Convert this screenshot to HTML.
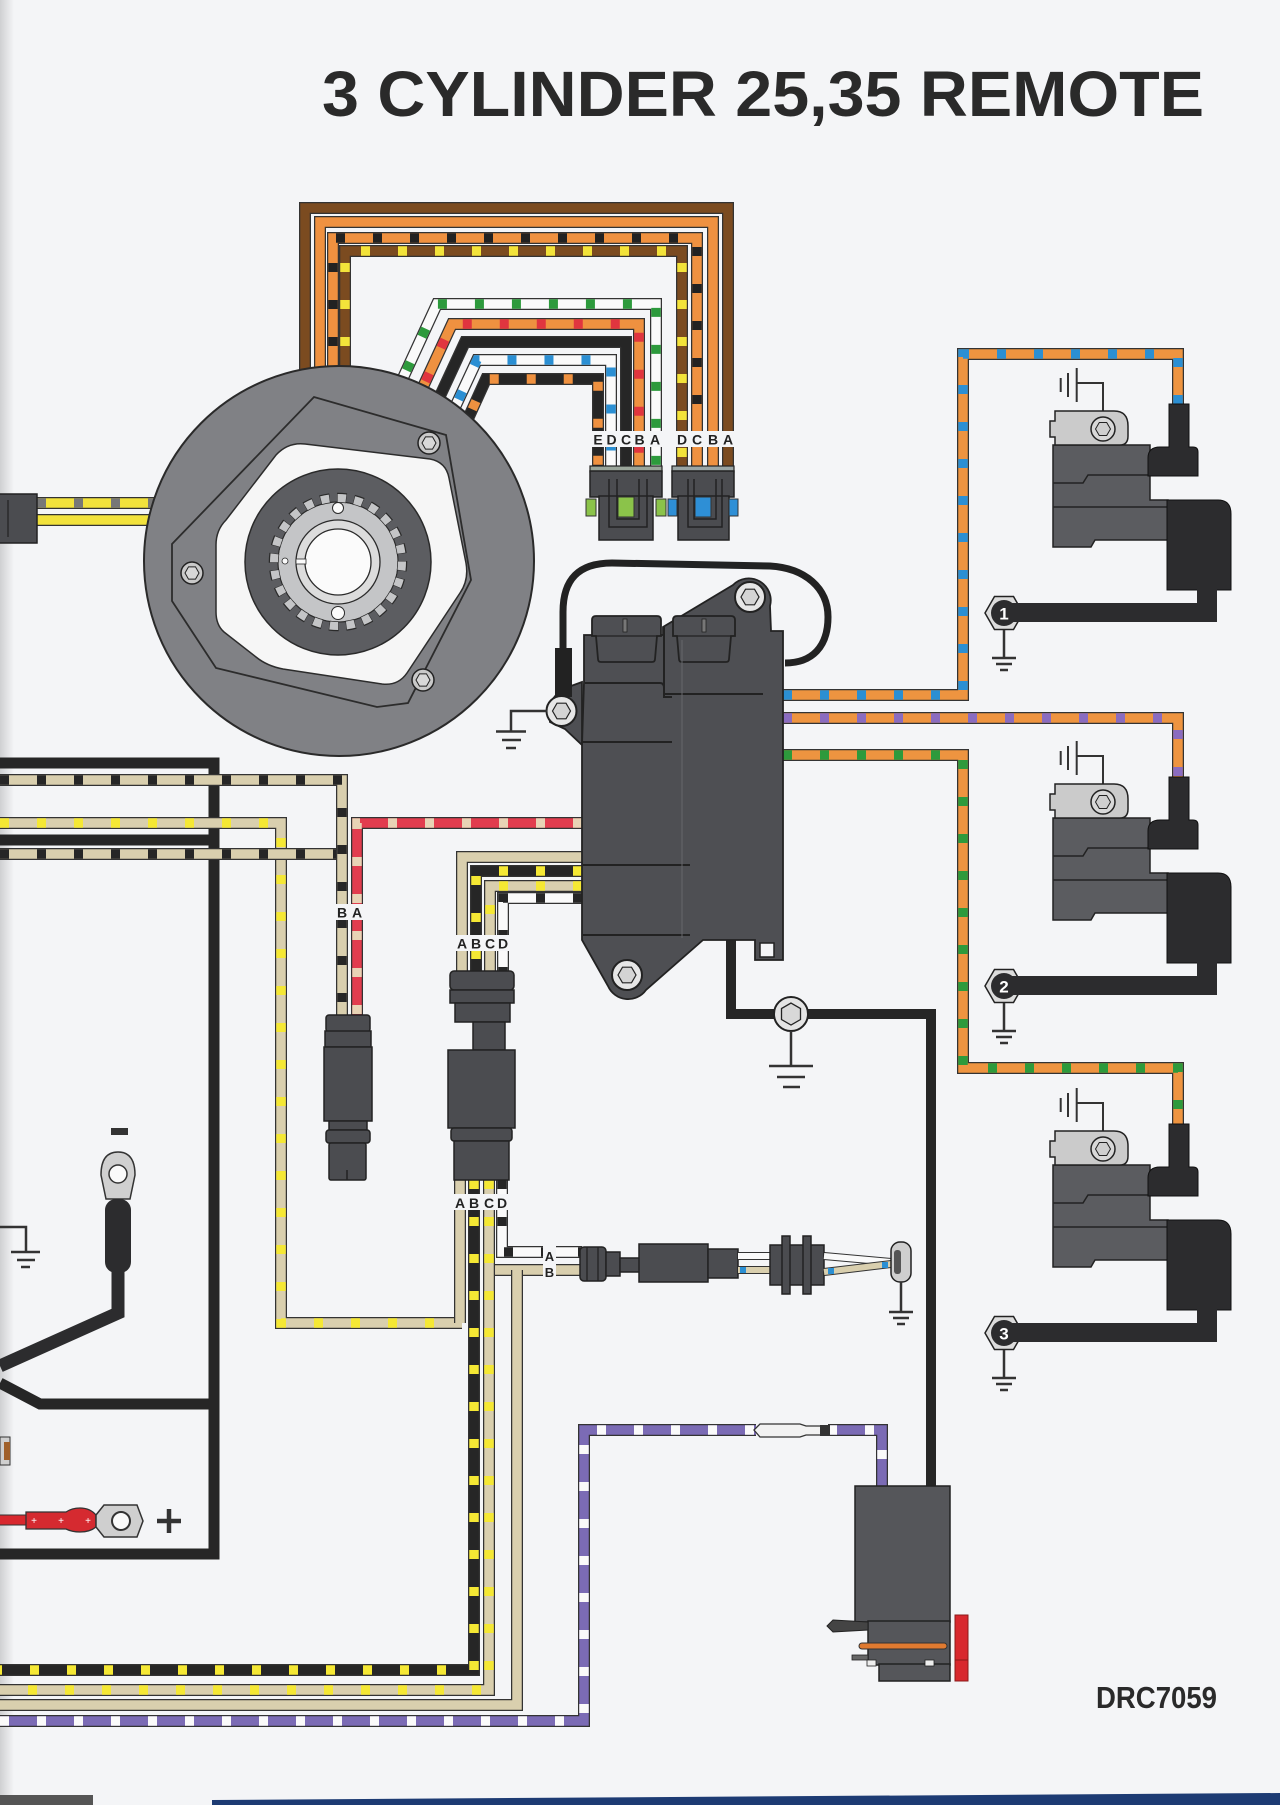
<!DOCTYPE html>
<html><head><meta charset="utf-8"><title>3 CYLINDER 25,35 REMOTE</title>
<style>
html,body{margin:0;padding:0;background:#f4f5f7;}
svg{display:block;}
.o{fill:none;stroke:#333;stroke-width:12;stroke-linejoin:miter;}
.w{fill:none;stroke-width:9.5;stroke-linejoin:miter;}
.d{stroke-dasharray:9 28;}
.k{fill:none;stroke:#262626;stroke-width:11;stroke-linejoin:miter;}
.g{fill:none;stroke:#333;stroke-width:2.5;}
.lb{font-family:"Liberation Sans",Arial,sans-serif;font-weight:bold;font-size:14px;fill:#222;text-anchor:middle;}
.pk{fill:#4e4f53;stroke:#222;stroke-width:1.8;}
.cn{fill:#4b4c50;stroke:#222;stroke-width:1.5;}
</style></head>
<body>
<svg width="1280" height="1805" viewBox="0 0 1280 1805" xmlns="http://www.w3.org/2000/svg">
<defs>
<linearGradient id="le" x1="0" x2="1" y1="0" y2="0"><stop offset="0" stop-color="#cfd0d2"/><stop offset="1" stop-color="#f4f5f7"/></linearGradient>
</defs>
<rect x="0" y="0" width="1280" height="1805" fill="#f4f5f7"/>
<rect x="0" y="0" width="14" height="1805" fill="url(#le)"/>

<!-- Title -->
<text x="322" y="116" font-family="Liberation Sans, Arial, sans-serif" font-weight="bold" font-size="64" fill="#2a2a2a" textLength="882" lengthAdjust="spacingAndGlyphs">3 CYLINDER 25,35 REMOTE</text>

<!-- ===== 4-wire stator harness ===== -->
<path class="o" d="M305,420 V208 H728 V468"/><path class="w" stroke="#7b4b20" d="M305,420 V208 H728 V468"/>
<path class="o" d="M320,420 V222 H713 V468"/><path class="w" stroke="#ef9140" d="M320,420 V222 H713 V468"/>
<path class="o" d="M333,420 V238 H697 V468"/><path class="w" stroke="#ef9140" d="M333,420 V238 H697 V468"/><path class="w d" stroke="#222" d="M333,420 V238 H697 V468"/>
<path class="o" d="M345,420 V251 H682 V468"/><path class="w" stroke="#7b4b20" d="M345,420 V251 H682 V468"/><path class="w d" stroke="#f3e33a" d="M345,420 V251 H682 V468"/>

<!-- ===== 5-wire harness ===== -->
<path class="o" d="M391,404 L437,304 H656 V468"/><path class="w" stroke="#fafafa" d="M391,404 L437,304 H656 V468"/><path class="w d" stroke="#2d9a3c" d="M391,404 L437,304 H656 V468"/>
<path class="o" d="M410,415 L452,324 H639 V468"/><path class="w" stroke="#ef9140" d="M410,415 L452,324 H639 V468"/><path class="w d" stroke="#e0353f" d="M410,415 L452,324 H639 V468"/>
<path class="o" d="M427,424 L465,342 H626 V468"/><path class="w" stroke="#262626" d="M427,424 L465,342 H626 V468"/>
<path class="o" d="M443,433 L477,360 H611 V468"/><path class="w" stroke="#fafafa" d="M443,433 L477,360 H611 V468"/><path class="w d" stroke="#2b8fd3" d="M443,433 L477,360 H611 V468"/>
<path class="o" d="M457,443 L486,379 H598 V468"/><path class="w" stroke="#262626" d="M457,443 L486,379 H598 V468"/><path class="w d" stroke="#ef9140" d="M457,443 L486,379 H598 V468"/>

<!-- labels on harness -->
<rect x="589" y="431" width="74" height="16" fill="#f4f5f7"/>
<text class="lb" x="598" y="444.5">E</text><text class="lb" x="611.5" y="444.5">D</text><text class="lb" x="626" y="444.5">C</text><text class="lb" x="639.5" y="444.5">B</text><text class="lb" x="655" y="444.5">A</text>
<rect x="671" y="431" width="66" height="16" fill="#f4f5f7"/>
<text class="lb" x="682" y="444.5">D</text><text class="lb" x="697" y="444.5">C</text><text class="lb" x="713" y="444.5">B</text><text class="lb" x="728" y="444.5">A</text>

<!-- connectors EDCBA / DCBA -->
<rect x="590" y="466" width="72" height="6" fill="#9aa59a" stroke="#222" stroke-width="1.2"/>
<rect x="590" y="471" width="72" height="26" class="cn"/>
<rect x="599" y="496" width="54" height="44" class="cn"/>
<rect x="586" y="499" width="10" height="17" fill="#8bc34a" stroke="#333"/>
<rect x="656" y="499" width="10" height="17" fill="#8bc34a" stroke="#333"/>
<rect x="618" y="497" width="16" height="20" fill="#8bc34a" stroke="#333"/>
<path d="M609,479 V527 H647 V479 M617,479 V519 H639 V479" fill="none" stroke="#222" stroke-width="1.5"/>
<rect x="672" y="466" width="62" height="6" fill="#9aa5a5" stroke="#222" stroke-width="1.2"/>
<rect x="672" y="471" width="62" height="26" class="cn"/>
<rect x="678" y="496" width="51" height="44" class="cn"/>
<rect x="668" y="499" width="9" height="17" fill="#2e8fd6" stroke="#333"/>
<rect x="729" y="499" width="9" height="17" fill="#2e8fd6" stroke="#333"/>
<rect x="695" y="497" width="16" height="20" fill="#2e8fd6" stroke="#333"/>
<path d="M688,479 V527 H722 V479 M694,479 V519 H716 V479" fill="none" stroke="#222" stroke-width="1.5"/>

<!-- stator left wires & connector -->
<path class="o" d="M37,503 H165"/><path class="w" stroke="#f2e23c" d="M37,503 H165"/><path class="w d" stroke="#777" d="M37,503 H165"/>
<path class="o" d="M37,520 H165"/><path class="w" stroke="#f2e23c" d="M37,520 H165"/>
<rect x="-2" y="494" width="39" height="49" class="cn"/>
<path d="M8,500 V537" stroke="#222" stroke-width="1.2"/>

<!-- ===== Stator ===== -->
<circle cx="339" cy="561" r="195" fill="#808185" stroke="#2a2a2a" stroke-width="2"/>
<polygon points="172,544 314,397 446,435 471,580 408,703 377,707 216,668 172,601" fill="none" stroke="#2c2c2c" stroke-width="1.8"/>
<path d="M216,612 L216,545 Q216,530 226,520 L276,455 Q288,442 305,444 L430,459 Q446,462 449,478 L466,563 Q469,580 460,593 L407,673 Q398,686 382,684 L283,669 Q267,666 256,657 L224,632 Q216,625 216,612 Z" fill="#f6f6f6" stroke="#2c2c2c" stroke-width="1.5"/>
<circle cx="338" cy="562" r="93" fill="#5c5d61" stroke="#2a2a2a" stroke-width="1.5"/>
<circle cx="338" cy="562" r="60" fill="#c4c5c7" stroke="#2a2a2a" stroke-width="1.2"/>
<circle cx="338" cy="562" r="64" fill="none" stroke="#2a2a2a" stroke-width="10.5" pathLength="240" stroke-dasharray="5.6 4.4" stroke-dashoffset="0.3"/>
<circle cx="338" cy="562" r="64" fill="none" stroke="#c4c5c7" stroke-width="8" pathLength="240" stroke-dasharray="5 5"/>
<circle cx="338" cy="562" r="59.3" fill="#c4c5c7"/>
<circle cx="338" cy="562" r="42" fill="#dcdcdc" stroke="#2a2a2a" stroke-width="1.3"/>
<circle cx="338" cy="562" r="33" fill="#fbfbfb" stroke="#2a2a2a" stroke-width="1.3"/>
<rect x="296" y="559" width="10" height="5" fill="#fbfbfb" stroke="#2a2a2a" stroke-width="0.8"/>
<circle cx="338" cy="508" r="5.5" fill="#fbfbfb" stroke="#2a2a2a"/>
<circle cx="338" cy="613" r="6.5" fill="#fbfbfb" stroke="#2a2a2a"/>
<circle cx="285" cy="561" r="3" fill="#fbfbfb" stroke="#2a2a2a" stroke-width="0.8"/>
<circle cx="429" cy="443" r="11" fill="#c9c9c9" stroke="#222" stroke-width="1.5"/>
<polygon points="422,443 425.5,436.9 432.5,436.9 436,443 432.5,449.1 425.5,449.1" fill="#d8d8d8" stroke="#222"/>
<circle cx="192" cy="573" r="11" fill="#c9c9c9" stroke="#222" stroke-width="1.5"/>
<polygon points="185,573 188.5,566.9 195.5,566.9 199,573 195.5,579.1 188.5,579.1" fill="#d8d8d8" stroke="#222"/>
<circle cx="423" cy="680" r="11" fill="#c9c9c9" stroke="#222" stroke-width="1.5"/>
<polygon points="416,680 419.5,673.9 426.5,673.9 430,680 426.5,686.1 419.5,686.1" fill="#d8d8d8" stroke="#222"/>

<!-- ===== Left wiring ===== -->
<path class="k" d="M0,763 H214 V1554 H0"/>
<path class="k" d="M0,840 H214"/>
<path class="k" d="M0,1383 L40,1404 H214"/>
<path class="o" d="M0,823 H281 V1323 H462"/><path class="w" stroke="#d9cfae" d="M0,823 H281 V1323 H462"/><path class="w d" stroke="#f5e834" d="M0,823 H281 V1323 H462"/>
<path class="o" d="M0,854 H342"/><path class="w" stroke="#d9cfae" d="M0,854 H342"/><path class="w d" stroke="#262626" d="M0,854 H342"/>
<path class="o" d="M0,780 H342 V1016"/><path class="w" stroke="#d9cfae" d="M0,780 H342 V1016"/><path class="w d" stroke="#262626" d="M0,780 H342 V1016"/>
<path class="o" d="M582,823 H357 V1016"/><path class="w" stroke="#e23c4e" d="M582,823 H357 V1016"/><path class="w d" stroke="#e8d3b5" d="M582,823 H357 V1016"/>

<!-- ABCD upper -->
<path class="o" d="M582,857 H462 V972"/><path class="w" stroke="#d9cfae" d="M582,857 H462 V972"/>
<path class="o" d="M582,871 H476 V972"/><path class="w" stroke="#262626" d="M582,871 H476 V972"/><path class="w d" stroke="#f5e834" d="M582,871 H476 V972"/>
<path class="o" d="M582,886 H490 V972"/><path class="w" stroke="#d9cfae" d="M582,886 H490 V972"/><path class="w d" stroke="#f5e834" d="M582,886 H490 V972"/>
<path class="o" d="M582,898 H503 V972"/><path class="w" stroke="#fafafa" d="M582,898 H503 V972"/><path class="w d" stroke="#262626" d="M582,898 H503 V972"/>

<!-- lower bundle -->
<path class="o" d="M489,1270 H582"/><path class="w" stroke="#d9cfae" d="M489,1270 H582"/>
<path class="o" d="M517,1270 V1705 H0"/><path class="w" stroke="#d9cfae" d="M517,1270 V1705 H0"/>
<path class="o" d="M460,1180 V1323"/><path class="w" stroke="#d9cfae" d="M460,1180 V1323"/>
<path class="o" d="M489,1180 V1690 H0"/><path class="w" stroke="#d9cfae" d="M489,1180 V1690 H0"/><path class="w d" stroke="#f5e834" d="M489,1180 V1690 H0"/>
<path class="o" d="M474,1180 V1670 H0"/><path class="w" stroke="#262626" d="M474,1180 V1670 H0"/><path class="w d" stroke="#f5e834" d="M474,1180 V1670 H0"/>
<path class="o" d="M502,1180 V1252 H582"/><path class="w" stroke="#fafafa" d="M502,1180 V1252 H582"/><path class="w d" stroke="#262626" d="M502,1180 V1252 H582"/>

<!-- purple -->
<path class="o" d="M0,1721 H584 V1430 H756"/><path class="w" stroke="#7b6bb5" d="M0,1721 H584 V1430 H756"/><path class="w d" stroke="#fafafa" d="M0,1721 H584 V1430 H756"/>
<path class="o" d="M828,1430 H882 V1487"/><path class="w" stroke="#7b6bb5" d="M828,1430 H882 V1487"/><path class="w d" stroke="#fafafa" d="M828,1430 H882 V1487"/>
<path d="M754,1430 L760,1424 H800 L806,1426 H822 V1435 H806 L800,1437 H760 Z" fill="#f2f2f2" stroke="#333" stroke-width="1.3"/>
<rect x="820" y="1425" width="10" height="11" fill="#333"/>

<!-- black from pack -->
<path class="k" style="stroke-width:10" d="M731,938 V1014 H931 V1487"/>

<!-- coil feed wires -->
<path class="o" d="M783,695 H963 V354 H1178 V408"/><path class="w" stroke="#ee9440" d="M783,695 H963 V354 H1178 V408"/><path class="w d" stroke="#2b8fd3" d="M783,695 H963 V354 H1178 V408"/>
<path class="o" d="M783,718 H1178 V781"/><path class="w" stroke="#ee9440" d="M783,718 H1178 V781"/><path class="w d" stroke="#8a6cc0" d="M783,718 H1178 V781"/>
<path class="o" d="M783,755 H963 V1068 H1178 V1127"/><path class="w" stroke="#ee9440" d="M783,755 H963 V1068 H1178 V1127"/><path class="w d" stroke="#2d9a3c" d="M783,755 H963 V1068 H1178 V1127"/>

<!-- labels -->
<rect x="333" y="904" width="33" height="16" fill="#f4f5f7"/>
<text class="lb" x="342" y="917.5">B</text><text class="lb" x="357" y="917.5">A</text>
<rect x="452" y="935" width="60" height="16" fill="#f4f5f7"/>
<text class="lb" x="462" y="948.5">A</text><text class="lb" x="476" y="948.5">B</text><text class="lb" x="490" y="948.5">C</text><text class="lb" x="503" y="948.5">D</text>
<rect x="450" y="1194" width="60" height="16" fill="#f4f5f7"/>
<text class="lb" x="460" y="1208">A</text><text class="lb" x="474" y="1208">B</text><text class="lb" x="489" y="1208">C</text><text class="lb" x="502" y="1208">D</text>
<rect x="543" y="1246" width="13" height="33" fill="#f4f5f7"/>
<text class="lb" style="font-size:13px" x="549.5" y="1261">A</text><text class="lb" style="font-size:13px" x="549.5" y="1277">B</text>

<!-- BA connector -->
<rect x="326" y="1015" width="44" height="17" rx="3" class="cn"/>
<rect x="325" y="1031" width="46" height="16" class="cn"/>
<rect x="324" y="1047" width="48" height="74" class="cn"/>
<rect x="329" y="1121" width="38" height="9" class="cn"/>
<rect x="326" y="1130" width="44" height="13" rx="3" class="cn"/>
<rect x="329" y="1143" width="37" height="37" rx="2" class="cn"/>
<path d="M347,1170 V1180" stroke="#222" stroke-width="1.5"/>

<!-- ABCD connector -->
<rect x="450" y="971" width="64" height="19" rx="4" class="cn"/>
<rect x="450" y="990" width="64" height="13" class="cn"/>
<rect x="455" y="1003" width="55" height="19" class="cn"/>
<rect x="473" y="1022" width="32" height="28" class="cn"/>
<rect x="448" y="1050" width="67" height="78" class="cn"/>
<rect x="451" y="1128" width="61" height="13" rx="3" class="cn"/>
<rect x="454" y="1141" width="55" height="39" class="cn"/>

<!-- sensor assembly -->
<rect x="580" y="1247" width="26" height="34" rx="4" class="cn"/>
<path d="M587,1247 V1281 M598,1247 V1281" stroke="#222" stroke-width="1.3"/>
<rect x="606" y="1252" width="14" height="24" class="cn"/>
<rect x="620" y="1258" width="20" height="14" class="cn"/>
<rect x="639" y="1244" width="69" height="38" class="cn"/>
<rect x="708" y="1249" width="30" height="29" class="cn"/>
<path d="M738,1256 H772" stroke="#333" stroke-width="8"/><path d="M738,1256 H772" stroke="#fafafa" stroke-width="6"/>
<path d="M738,1270 H772" stroke="#333" stroke-width="8"/><path d="M738,1270 H772" stroke="#d9cfae" stroke-width="6"/>
<rect x="740" y="1267" width="6" height="6" fill="#2b8fd3"/>
<rect x="770" y="1245" width="54" height="40" class="cn"/>
<rect x="782" y="1236" width="8" height="58" class="cn"/>
<rect x="803" y="1236" width="8" height="58" class="cn"/>
<path d="M824,1256 L891,1262" stroke="#333" stroke-width="8"/><path d="M824,1256 L891,1262" stroke="#fafafa" stroke-width="6"/>
<path d="M824,1272 L891,1264" stroke="#333" stroke-width="8"/><path d="M824,1272 L891,1264" stroke="#d9cfae" stroke-width="6"/>
<rect x="828" y="1268" width="6" height="6" fill="#2b8fd3"/><rect x="882" y="1262" width="6" height="6" fill="#2b8fd3"/>
<rect x="891" y="1242" width="20" height="40" rx="9" fill="#cfcfcf" stroke="#222" stroke-width="1.5"/>
<rect x="894" y="1250" width="7" height="24" rx="3" fill="#555"/>
<path class="g" d="M901,1282 V1312 M889,1312 H913 M893,1318 H909 M897,1324 H905"/>

<!-- ground hex on black wire -->
<circle cx="791" cy="1014" r="17" fill="#e4e4e4" stroke="#222" stroke-width="2"/>
<polygon points="791,1003 800.5,1008.5 800.5,1019.5 791,1025 781.5,1019.5 781.5,1008.5" fill="#d8d8d8" stroke="#222" stroke-width="1.3"/>
<path class="g" d="M791,1031 V1066 M769,1066 H813 M777,1077 H805 M783,1087 H800"/>

<!-- ===== Power pack ===== -->
<path d="M563,650 V612 C563,580 578,563 612,563 L770,566 C805,568 828,588 828,617 C828,647 812,663 785,663" fill="none" stroke="#222" stroke-width="7"/>
<path class="pk" d="M582,682 L560,690 L548,705 L550,722 L565,729 L582,745 Z"/>
<path class="pk" d="M584,635 H663 V627 L733,585 A22,22 0 0 1 770,606 L771,631 H783 V960 H755 V940 H703 L646,990 A22,22 0 0 1 608,986 L582,940 L582,745 L584,682 Z"/>
<rect x="760" y="943" width="14" height="14" fill="#f4f5f7" stroke="#222" stroke-width="1.5"/>
<path d="M592,620 Q592,616 596,616 H657 Q661,616 661,620 V636 H657 L655,659 Q655,662 652,662 H601 Q598,662 598,659 L596,636 H592 Z" class="pk"/>
<path d="M592,636 H661" stroke="#222" stroke-width="1.3"/>
<rect x="623" y="619" width="4" height="13" fill="#777" stroke="#222" stroke-width="0.8"/>
<path d="M673,620 Q673,616 677,616 H731 Q735,616 735,620 V636 H731 L729,659 Q729,662 726,662 H682 Q679,662 679,659 L677,636 H673 Z" class="pk"/>
<path d="M673,636 H735" stroke="#222" stroke-width="1.3"/>
<rect x="702" y="619" width="4" height="13" fill="#777" stroke="#222" stroke-width="0.8"/>
<path d="M585,683 H660 Q664,683 664,688 V697 H672 M665,694 H763 M583,742 H672 M583,865 H690 M583,935 H690 M664,627 V697" fill="none" stroke="#222" stroke-width="2"/>
<path d="M682,640 V938" stroke="#66676b" stroke-width="1"/>
<rect x="555" y="648" width="17" height="49" fill="#222"/>
<circle cx="750" cy="597" r="15" fill="#e6e6e6" stroke="#222" stroke-width="2"/>
<polygon points="741,597 745.5,589.2 754.5,589.2 759,597 754.5,604.8 745.5,604.8" fill="#d4d4d4" stroke="#222" stroke-width="1.2"/>
<circle cx="561.5" cy="711" r="15" fill="#e6e6e6" stroke="#222" stroke-width="2"/>
<polygon points="552.5,711 557,703.2 566,703.2 570.5,711 566,718.8 557,718.8" fill="#d4d4d4" stroke="#222" stroke-width="1.2"/>
<circle cx="627" cy="975" r="15" fill="#e6e6e6" stroke="#222" stroke-width="2"/>
<polygon points="618,975 622.5,967.2 631.5,967.2 636,975 631.5,982.8 622.5,982.8" fill="#d4d4d4" stroke="#222" stroke-width="1.2"/>
<path class="g" d="M547,711 H511 V731 M496,731.5 H526 M502,740 H521 M506,748 H516"/>

<!-- ===== Coils ===== -->
<g id="c1">
<path d="M1060.7,378V392M1068,373V397M1076.7,368V402M1076.7,383H1103V411" stroke="#333" stroke-width="2" fill="none"/>
<path d="M1053,445 H1150 V500 H1168 V540 H1095 L1091,547 H1053 Z" fill="#5b5c60" stroke="#222" stroke-width="1.5"/>
<path d="M1053,483H1083L1088,475H1150M1053,507H1167" stroke="#222" stroke-width="1.5" fill="none"/>
<path d="M1055,411H1114Q1128,411 1128,426V436Q1128,445 1120,445H1055V437H1050V421H1055Z" fill="#cbcbcb" stroke="#222" stroke-width="1.5"/>
<circle cx="1103" cy="429" r="12" fill="#d8d8d8" stroke="#222" stroke-width="1.5"/>
<polygon points="1095.5,429 1099.3,422.5 1106.7,422.5 1110.5,429 1106.7,435.5 1099.3,435.5" fill="#cfcfcf" stroke="#222"/>
<path d="M1169,404H1189V447H1193Q1198,447 1198,452V476H1148V458Q1148,447 1160,447H1169Z" fill="#2c2c2e" stroke="#111"/>
<path d="M1167,500H1218Q1231,500 1231,514V590H1167Z" fill="#2c2c2e" stroke="#111"/>
<polygon points="985,613 994.5,596.5 1013.5,596.5 1023,613 1013.5,629.5 994.5,629.5" fill="#dcdcdc" stroke="#222" stroke-width="1.5"/>
<path d="M1197,589H1217V622H1010V603H1197Z" fill="#2c2c2e"/>
<circle cx="1004" cy="613" r="13" fill="#2c2c2e"/>
<text x="1004" y="619.5" font-family="Liberation Sans, Arial, sans-serif" font-weight="bold" font-size="17" fill="#fff" text-anchor="middle">1</text>
<path class="g" d="M1004,630V658M992,658H1016M996,664H1012M1000,670H1008"/>
</g>
<g transform="translate(0,373)">
<path d="M1060.7,378V392M1068,373V397M1076.7,368V402M1076.7,383H1103V411" stroke="#333" stroke-width="2" fill="none"/>
<path d="M1053,445 H1150 V500 H1168 V540 H1095 L1091,547 H1053 Z" fill="#5b5c60" stroke="#222" stroke-width="1.5"/>
<path d="M1053,483H1083L1088,475H1150M1053,507H1167" stroke="#222" stroke-width="1.5" fill="none"/>
<path d="M1055,411H1114Q1128,411 1128,426V436Q1128,445 1120,445H1055V437H1050V421H1055Z" fill="#cbcbcb" stroke="#222" stroke-width="1.5"/>
<circle cx="1103" cy="429" r="12" fill="#d8d8d8" stroke="#222" stroke-width="1.5"/>
<polygon points="1095.5,429 1099.3,422.5 1106.7,422.5 1110.5,429 1106.7,435.5 1099.3,435.5" fill="#cfcfcf" stroke="#222"/>
<path d="M1169,404H1189V447H1193Q1198,447 1198,452V476H1148V458Q1148,447 1160,447H1169Z" fill="#2c2c2e" stroke="#111"/>
<path d="M1167,500H1218Q1231,500 1231,514V590H1167Z" fill="#2c2c2e" stroke="#111"/>
<polygon points="985,613 994.5,596.5 1013.5,596.5 1023,613 1013.5,629.5 994.5,629.5" fill="#dcdcdc" stroke="#222" stroke-width="1.5"/>
<path d="M1197,589H1217V622H1010V603H1197Z" fill="#2c2c2e"/>
<circle cx="1004" cy="613" r="13" fill="#2c2c2e"/>
<text x="1004" y="619.5" font-family="Liberation Sans, Arial, sans-serif" font-weight="bold" font-size="17" fill="#fff" text-anchor="middle">2</text>
<path class="g" d="M1004,630V658M992,658H1016M996,664H1012M1000,670H1008"/>
</g>
<g transform="translate(0,720)">
<path d="M1060.7,378V392M1068,373V397M1076.7,368V402M1076.7,383H1103V411" stroke="#333" stroke-width="2" fill="none"/>
<path d="M1053,445 H1150 V500 H1168 V540 H1095 L1091,547 H1053 Z" fill="#5b5c60" stroke="#222" stroke-width="1.5"/>
<path d="M1053,483H1083L1088,475H1150M1053,507H1167" stroke="#222" stroke-width="1.5" fill="none"/>
<path d="M1055,411H1114Q1128,411 1128,426V436Q1128,445 1120,445H1055V437H1050V421H1055Z" fill="#cbcbcb" stroke="#222" stroke-width="1.5"/>
<circle cx="1103" cy="429" r="12" fill="#d8d8d8" stroke="#222" stroke-width="1.5"/>
<polygon points="1095.5,429 1099.3,422.5 1106.7,422.5 1110.5,429 1106.7,435.5 1099.3,435.5" fill="#cfcfcf" stroke="#222"/>
<path d="M1169,404H1189V447H1193Q1198,447 1198,452V476H1148V458Q1148,447 1160,447H1169Z" fill="#2c2c2e" stroke="#111"/>
<path d="M1167,500H1218Q1231,500 1231,514V590H1167Z" fill="#2c2c2e" stroke="#111"/>
<polygon points="985,613 994.5,596.5 1013.5,596.5 1023,613 1013.5,629.5 994.5,629.5" fill="#dcdcdc" stroke="#222" stroke-width="1.5"/>
<path d="M1197,589H1217V622H1010V603H1197Z" fill="#2c2c2e"/>
<circle cx="1004" cy="613" r="13" fill="#2c2c2e"/>
<text x="1004" y="619.5" font-family="Liberation Sans, Arial, sans-serif" font-weight="bold" font-size="17" fill="#fff" text-anchor="middle">3</text>
<path class="g" d="M1004,630V658M992,658H1016M996,664H1012M1000,670H1008"/>
</g>

<!-- ===== Solenoid ===== -->
<rect x="855" y="1486" width="95" height="136" fill="#55565a" stroke="#222" stroke-width="1.5"/>
<rect x="868" y="1621" width="82" height="44" fill="#55565a" stroke="#222" stroke-width="1.5"/>
<rect x="879" y="1664" width="71" height="17" fill="#55565a" stroke="#222" stroke-width="1.5"/>
<polygon points="827,1626 833,1620 868,1622 868,1630 833,1632" fill="#444" stroke="#222"/>
<rect x="859" y="1643" width="88" height="6" rx="3" fill="#e07a30" stroke="#333"/>
<rect x="852" y="1655" width="16" height="5" fill="#666" stroke="#222" stroke-width="0.8"/>
<rect x="867" y="1660" width="9" height="6" fill="#eee" stroke="#222" stroke-width="0.8"/>
<rect x="925" y="1660" width="9" height="6" fill="#eee" stroke="#222" stroke-width="0.8"/>
<rect x="955" y="1615" width="13" height="66" fill="#d8282e" stroke="#8a1a1a"/>
<path d="M955,1660 H968" stroke="#8a1a1a"/>

<!-- ===== Battery terminals ===== -->
<rect x="111" y="1128" width="17" height="7" fill="#333"/>
<path d="M101,1175 Q101,1152 118,1152 Q135,1152 135,1175 L130,1199 H106 Z" fill="#d0d0d0" stroke="#333" stroke-width="1.5"/>
<circle cx="118" cy="1174" r="9" fill="#fafafa" stroke="#333" stroke-width="1.5"/>
<path d="M118,1265 V1313 L0,1366" fill="none" stroke="#2c2c2e" stroke-width="13"/>
<rect x="105" y="1199" width="26" height="74" rx="11" fill="#2c2c2e"/>
<path class="g" d="M0,1227 H26 V1252 M11,1252 H40 M17,1260 H35 M21,1267 H30"/>
<rect x="0" y="1437" width="10" height="28" fill="#cfcfcf" stroke="#333"/>
<rect x="4" y="1442" width="6" height="18" fill="#a0602a"/>
<rect x="-2" y="1515" width="30" height="10" fill="#d8282e" stroke="#333"/>
<path d="M26,1512 H66 Q72,1508 80,1508 Q90,1508 96,1515 V1527 Q90,1532 80,1532 Q72,1532 66,1529 H26 Z" fill="#d52a30" stroke="#333" stroke-width="1.3"/>
<text x="34" y="1524" font-family="Liberation Sans, Arial, sans-serif" font-size="10" fill="#fff" text-anchor="middle">+</text>
<text x="61" y="1524" font-family="Liberation Sans, Arial, sans-serif" font-size="10" fill="#fff" text-anchor="middle">+</text>
<text x="88" y="1524" font-family="Liberation Sans, Arial, sans-serif" font-size="10" fill="#fff" text-anchor="middle">+</text>
<polygon points="96,1515 104,1505 137,1505 143,1521 137,1537 104,1537 96,1527" fill="#cfcfcf" stroke="#333" stroke-width="1.5"/>
<circle cx="121" cy="1521" r="9" fill="#fafafa" stroke="#333" stroke-width="2"/>
<path d="M157,1521 H181 M169,1509 V1533" stroke="#333" stroke-width="4.5"/>

<!-- DRC -->
<text x="1096" y="1708" font-family="Liberation Sans, Arial, sans-serif" font-weight="bold" font-size="31" fill="#2a2a2a" textLength="121" lengthAdjust="spacingAndGlyphs">DRC7059</text>

<!-- page edges -->
<rect x="0" y="1795" width="93" height="10" fill="#555"/>
<polygon points="212,1800 1280,1793 1280,1805 212,1805" fill="#1d3b73"/>
</svg>
</body></html>
